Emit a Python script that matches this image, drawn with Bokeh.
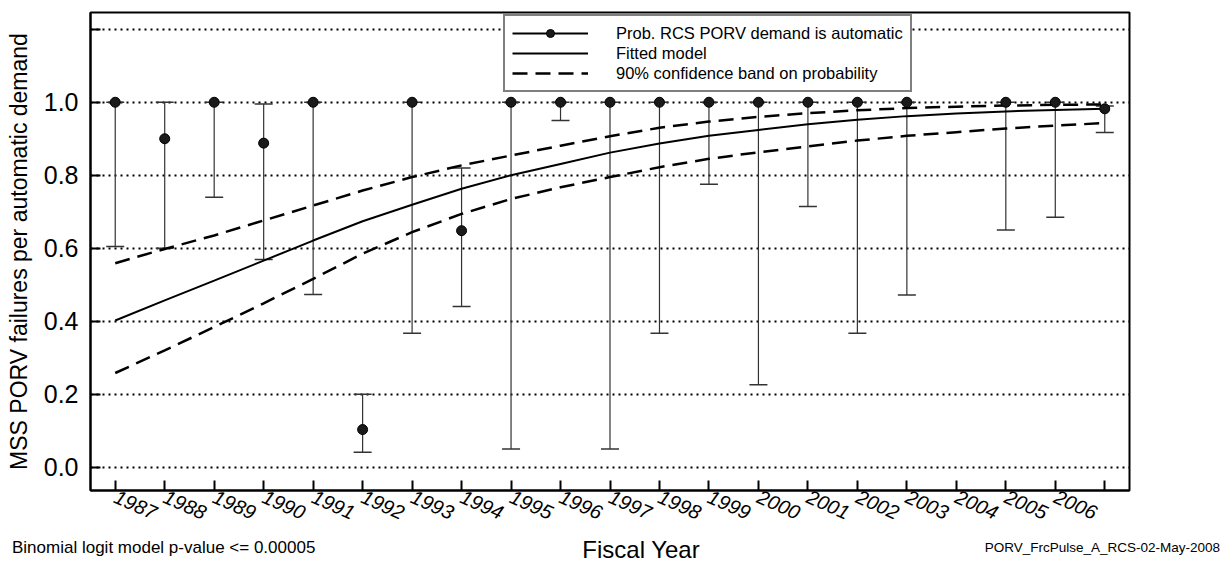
import html as _html
from bokeh.plotting import figure
from bokeh.layouts import column
from bokeh.models import (FixedTicker, Whisker, TeeHead, ColumnDataSource, Legend,
                          LegendItem, Range1d, Div)
from bokeh.embed import file_html
from bokeh.resources import INLINE

# ---- data ----
years = list(range(1987, 2008))
tick_labels = {y: str(y) for y in range(1987, 2007)}
tick_labels[2007] = ""

fit = [0.402, 0.457, 0.511, 0.566, 0.621, 0.674, 0.719, 0.763, 0.800, 0.831, 0.862,
       0.887, 0.908, 0.924, 0.940, 0.952, 0.962, 0.969, 0.975, 0.979, 0.982]
band_upper = [0.559, 0.598, 0.635, 0.676, 0.717, 0.758, 0.795, 0.827, 0.854, 0.881, 0.907,
              0.930, 0.947, 0.960, 0.970, 0.978, 0.984, 0.988, 0.991, 0.993, 0.994]
band_lower = [0.258, 0.320, 0.384, 0.449, 0.516, 0.585, 0.644, 0.694, 0.735, 0.767, 0.795,
              0.822, 0.845, 0.863, 0.879, 0.895, 0.908, 0.918, 0.928, 0.936, 0.943]

pt_years = list(range(1987, 2004)) + [2005, 2006, 2007]
pt_value = [1.0, 0.90, 1.0, 0.888, 1.0, 0.103, 1.0, 0.648, 1.0, 1.0, 1.0, 1.0, 1.0, 1.0,
            1.0, 1.0, 1.0, 1.0, 1.0, 0.982]
pt_lower = [0.605, 0.60, 0.74, 0.569, 0.473, 0.041, 0.367, 0.44, 0.05, 0.95, 0.05, 0.367,
            0.775, 0.226, 0.714, 0.367, 0.472, 0.65, 0.685, 0.917]
pt_upper = [1.0, 1.0, 1.0, 0.995, 1.0, 0.20, 1.0, 0.82, 1.0, 1.0, 1.0, 1.0, 1.0, 1.0,
            1.0, 1.0, 1.0, 1.0, 1.0, 0.99]

y_ticks = [0.0, 0.2, 0.4, 0.6, 0.8, 1.0, 1.2]
y_labels = {0.0: "0.0", 0.2: "0.2", 0.4: "0.4", 0.6: "0.6", 0.8: "0.8", 1.0: "1.0", 1.2: ""}

footer_texts = ["Binomial logit model p-value <= 0.00005", "Fiscal Year",
                "PORV_FrcPulse_A_RCS-02-May-2008"]

FONT = "Liberation Sans"

p = figure(frame_width=1039, frame_height=478,
           min_border_left=90, min_border_right=102, min_border_top=12, min_border_bottom=45,
           x_range=Range1d(1986.5, 2007.5), y_range=Range1d(-0.064, 1.246),
           output_backend="svg", toolbar_location=None)
p.background_fill_color = "white"
p.border_fill_color = "white"
p.outline_line_color = "black"
p.outline_line_width = 2

# axes
p.xaxis.ticker = FixedTicker(ticks=years)
p.xaxis.major_label_overrides = tick_labels
p.xaxis.major_label_orientation = -0.42
p.xaxis.major_label_text_font = FONT
p.xaxis.major_label_text_font_style = "italic"
p.xaxis.major_label_text_font_size = "20px"
p.xaxis.major_label_text_color = "black"
p.xaxis.major_label_standoff = 5
p.xaxis.minor_tick_line_color = None

p.yaxis.ticker = FixedTicker(ticks=y_ticks)
p.yaxis.major_label_overrides = y_labels
p.yaxis.major_label_text_font = FONT
p.yaxis.major_label_text_font_size = "25px"
p.yaxis.major_label_text_color = "black"
p.yaxis.major_label_standoff = 12
p.yaxis.minor_tick_line_color = None
p.yaxis.axis_label = "MSS PORV failures per automatic demand"
p.yaxis.axis_label_text_font = FONT
p.yaxis.axis_label_text_font_style = "normal"
p.yaxis.axis_label_text_font_size = "23px"
p.yaxis.axis_label_standoff = 9
p.yaxis.axis_label_text_color = "black"

for ax in (p.xaxis, p.yaxis):
    ax.axis_line_color = "black"
    ax.axis_line_width = 2
    ax.major_tick_in = 10
    ax.major_tick_out = 0
    ax.major_tick_line_color = "black"
    ax.major_tick_line_width = 2

p.xgrid.grid_line_color = None
p.ygrid.ticker = FixedTicker(ticks=y_ticks)
p.ygrid.grid_line_color = "black"
p.ygrid.grid_line_width = 2
p.ygrid.grid_line_dash = "2 4"

# fitted model and band
r_fit = p.line(years, fit, line_color="black", line_width=2)
r_up = p.line(years, band_upper, line_color="black", line_width=2.5, line_dash="15 8")
p.line(years, band_lower, line_color="black", line_width=2.5, line_dash="15 8")

# error bars
src = ColumnDataSource(dict(x=pt_years, y=pt_value, lo=pt_lower, hi=pt_upper))
wh = Whisker(base="x", upper="hi", lower="lo", source=src, dimension="height",
             line_color="#333333", line_width=1.2,
             upper_head=TeeHead(size=18, line_color="#333333", line_width=1.5),
             lower_head=TeeHead(size=18, line_color="#333333", line_width=1.5))
p.add_layout(wh)

r_pts = p.scatter("x", "y", source=src, marker="circle", size=10,
                  fill_color="#1a1a1a", line_color="black", line_width=1)
# legend-only line (kept outside the visible range)
r_dummy = p.line([1980, 1981], [-5, -5], line_color="black", line_width=2)

legend = Legend(items=[
    LegendItem(label="Prob. RCS PORV demand is automatic", renderers=[r_dummy, r_pts]),
    LegendItem(label="Fitted model", renderers=[r_fit]),
    LegendItem(label="90% confidence band on probability", renderers=[r_up]),
], location=(413, 398))
legend.margin = 0
legend.padding = 7
legend.spacing = 0
legend.glyph_width = 76
legend.glyph_height = 20
legend.label_height = 20
legend.label_standoff = 28
legend.label_text_font = FONT
legend.label_text_font_size = "16.5px"
legend.label_text_color = "black"
legend.border_line_color = "black"
legend.border_line_width = 2
legend.background_fill_color = "white"
legend.background_fill_alpha = 1.0
p.add_layout(legend)

# footer strip below the plot
t0, t1, t2 = (_html.escape(t) for t in footer_texts)
footer_html = (
    '<div style="position:relative;width:1231px;height:31px;'
    "font-family:'Liberation Sans',Arial,sans-serif;color:black;\">"
    f'<span style="position:absolute;left:12px;top:3px;font-size:17px;line-height:20px;'
    f'white-space:nowrap;">{t0}</span>'
    f'<span style="position:absolute;left:641px;top:0px;transform:translateX(-50%);'
    f'font-size:24px;line-height:30px;white-space:nowrap;">{t1}</span>'
    f'<span style="position:absolute;right:11px;top:4px;font-size:13.5px;line-height:18px;'
    f'white-space:nowrap;">{t2}</span></div>'
)
footer = Div(text=footer_html, width=1231, height=31, margin=0)

layout = column(p, footer, spacing=0)
open("out.html", "w").write(file_html(layout, INLINE))
